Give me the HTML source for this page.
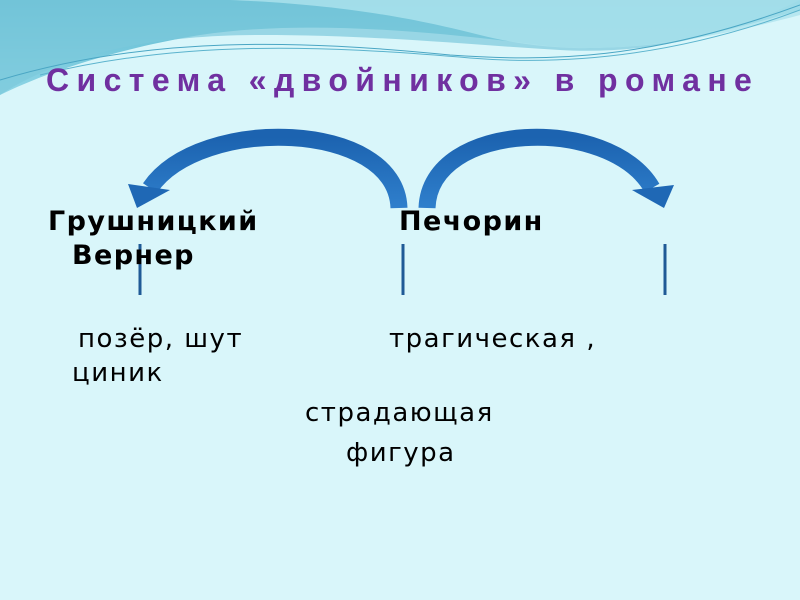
<!DOCTYPE html>
<html><head><meta charset="utf-8"><style>
body{margin:0;width:800px;height:600px;overflow:hidden;background:#d9f6fa;font-family:"DejaVu Sans","Liberation Sans",sans-serif;position:relative}
.t{position:absolute;white-space:nowrap;color:#000;font-size:26px;letter-spacing:1.5px;line-height:30px}
.b{font-weight:bold;font-size:27px;letter-spacing:1.4px}
</style></head><body>
<svg width="800" height="600" style="position:absolute;left:0;top:0">
<defs>
<linearGradient id="g1" x1="0" y1="0" x2="0" y2="1"><stop offset="0" stop-color="#5bb8d0"/><stop offset="1" stop-color="#8fd6e6"/></linearGradient>
<linearGradient id="ar" x1="0" y1="0" x2="0" y2="1"><stop offset="0" stop-color="#1c63b0"/><stop offset="1" stop-color="#2f7fcc"/></linearGradient>
</defs>
<path d="M0,0 H800 V10 C700,40 620,55 540,45 C420,30 300,20 200,35 C110,50 40,75 0,95 Z" fill="url(#g1)"/>
<path d="M0,95 C60,55 150,35 260,35 C380,35 470,45 560,50 C650,55 730,35 800,0 V0 H0 Z" fill="#7cc9dc" opacity="0.7"/>
<path d="M230,0 C350,5 420,20 480,35 C560,55 650,55 800,15 V0 Z" fill="#aee3ee" opacity="0.8"/>
<path d="M0,80 C150,35 300,40 450,55 C550,62 650,60 800,5" stroke="#4aa6c4" stroke-width="1" fill="none"/>
<path d="M40,75 C180,40 320,45 470,58 C570,66 680,55 800,10" stroke="#5bb3cd" stroke-width="1" fill="none"/>
<path d="M399,208 C396,120 200,115 150,188" stroke="url(#ar)" stroke-width="17" fill="none"/>
<polygon points="128,184 170,190 137,208" fill="#1f68b5"/>
<path d="M427,208 C430,120 610,115 652,188" stroke="url(#ar)" stroke-width="17" fill="none"/>
<polygon points="632,190 674,185 664,208" fill="#1f68b5"/>
<g stroke="#1f5a96" stroke-width="3">
<line x1="140" y1="244" x2="140" y2="295"/>
<line x1="403" y1="244" x2="403" y2="295"/>
<line x1="665" y1="244" x2="665" y2="295"/>
</g>
</svg>
<div class="t" style="left:46px;top:62px;font-family:'Liberation Sans',sans-serif;font-size:32px;font-weight:bold;color:#7030a0;letter-spacing:7.4px;line-height:36px">Система «двойников» в романе</div>
<div class="t b" style="left:48px;top:207px">Грушницкий</div>
<div class="t b" style="left:399px;top:207px">Печорин</div>
<div class="t b" style="left:72px;top:241px">Вернер</div>
<div class="t" style="left:78px;top:324px">позёр, шут</div>
<div class="t" style="left:389px;top:324px">трагическая ,</div>
<div class="t" style="left:72px;top:358px">циник</div>
<div class="t" style="left:305px;top:398px">страдающая</div>
<div class="t" style="left:346px;top:438px">фигура</div>
</body></html>
